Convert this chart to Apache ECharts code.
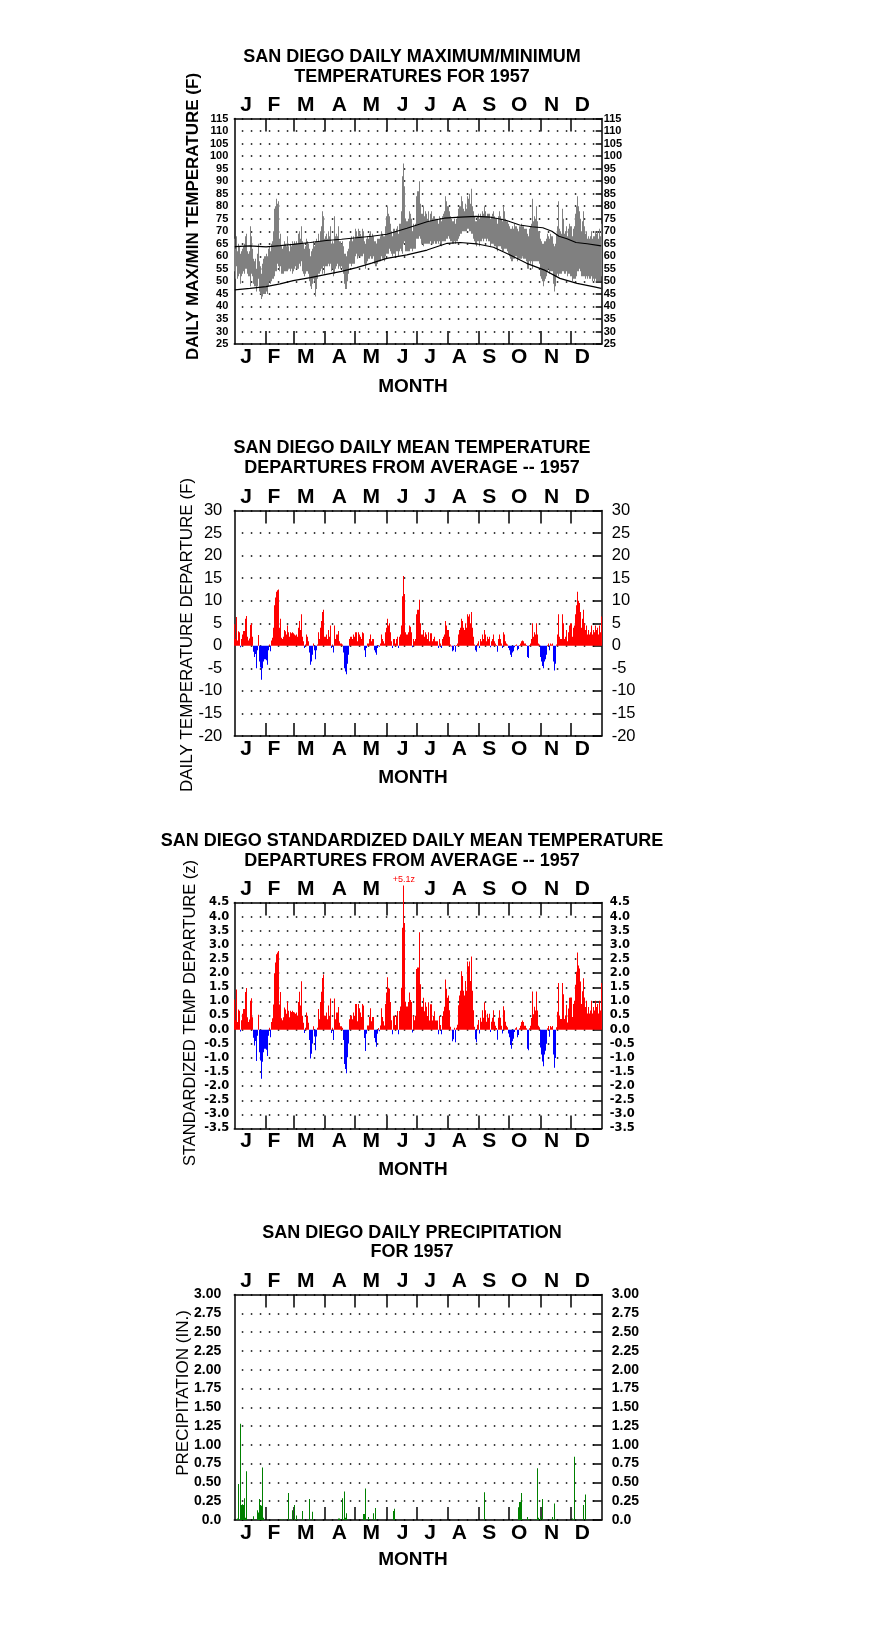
<!DOCTYPE html>
<html><head><meta charset="utf-8">
<script src="https://cdn.jsdelivr.net/npm/echarts@6/dist/echarts.min.js"></script>
<style>html,body{margin:0;padding:0;background:#fff}#c{width:876px;height:1634px}</style>
</head><body><div id="c"></div>
<script>
// ---------------- DATA ----------------
const monthLetters = ['J','F','M','A','M','J','J','A','S','O','N','D'];
const monthStarts = [0,31,59,90,120,151,181,212,243,273,304,334];

// Daily maximum / minimum temperature (F), day index 0 = Jan 1
const tmax = [
67,63,68,62,65,64,61,62,63,64,65,68,69,62,61,62,72,68,63,59,58,59,55,61,65,58,56,53,57,59,60,
61,60,63,64,62,65,66,70,79,80,83,81,82,67,69,64,63,64,66,65,64,68,64,62,65,64,66,65,
66,65,66,65,69,70,67,72,66,65,63,64,67,66,65,63,60,62,63,66,64,66,67,66,69,66,70,72,78,76,67,
68,69,67,70,68,72,65,66,65,76,68,69,68,72,66,66,65,66,64,61,61,60,62,63,66,67,68,66,68,67,
71,70,68,71,70,69,68,71,70,66,65,67,68,67,69,70,68,69,68,66,66,65,67,67,67,68,70,69,68,68,72,
76,80,77,76,73,70,68,71,71,70,71,72,69,73,73,78,92,97,88,75,74,74,75,78,77,75,70,73,72,73,
84,86,90,81,77,77,80,76,78,77,75,78,74,77,78,75,76,76,75,75,75,73,76,75,74,76,77,78,84,82,80,
80,78,76,75,74,74,75,73,75,76,79,80,80,84,82,79,78,81,79,84,83,85,81,87,80,78,76,74,74,76,77,
75,77,76,78,77,80,78,76,77,77,77,75,76,77,78,76,75,75,73,76,78,76,75,74,80,78,75,74,74,73,
72,71,71,72,71,73,72,72,71,70,72,72,73,72,72,71,71,71,69,68,71,72,73,83,74,76,75,80,74,70,70,
67,66,65,65,66,66,67,69,68,67,69,68,68,65,64,65,69,72,82,71,70,69,79,75,69,70,72,68,71,73,
72,68,71,72,77,80,84,80,78,75,70,74,78,72,69,70,67,68,67,68,70,67,68,68,70,69,70,67,71,68,73];
const tmin = [
54,51,56,51,52,53,49,52,53,54,53,55,55,53,52,52,48,53,52,49,48,48,46,48,51,46,45,43,44,45,45,
46,45,48,50,49,50,51,51,52,54,54,57,56,54,56,53,53,53,54,54,54,54,55,55,54,55,53,54,
55,56,55,55,55,57,56,58,54,53,52,53,54,54,53,50,48,47,49,51,50,44,47,51,53,53,54,55,53,56,53,
56,56,56,57,56,57,54,55,52,53,55,56,57,55,56,55,56,55,53,49,47,47,50,53,57,57,56,57,57,57,
60,61,59,60,60,60,60,60,61,57,55,57,58,59,59,60,59,59,60,57,56,56,57,58,58,58,60,59,59,58,60,
61,61,61,63,62,61,60,61,61,60,62,62,60,62,63,62,61,65,66,62,62,62,62,62,63,63,62,63,63,63,
67,67,68,67,65,65,64,65,65,65,65,65,65,66,65,65,65,66,65,65,66,65,66,65,64,66,66,66,66,67,67,
68,67,66,66,65,65,66,65,66,66,67,68,69,69,70,70,70,70,70,71,71,70,70,69,69,67,66,65,64,66,66,
64,66,66,67,66,67,67,66,67,66,66,64,65,65,65,64,64,63,62,64,64,64,63,62,62,63,63,63,62,61,
60,59,58,58,59,59,60,60,58,59,59,59,59,60,59,59,59,58,55,55,58,57,58,55,58,58,58,58,58,58,57,
52,51,50,48,50,51,52,54,55,53,54,54,54,49,46,48,52,53,52,53,53,53,54,54,53,53,54,52,53,53,
52,50,51,51,51,52,54,54,55,54,52,52,52,52,51,52,51,52,51,51,52,50,51,50,51,50,50,50,50,50,52];

// Normal (average) daily max / min curves, read at selected days
const normMaxDays = [0,15,31,45,58,75,91,106,121,136,151,161,171,181,191,200,208,224,240,254,262,270,283,295,306,315,322,330,339,350,364];
const normMaxVals = [63.9,64.2,63.8,64.3,64.8,65.5,66.3,66.8,67.4,68.0,68.8,70.0,71.2,72.5,73.8,74.6,75.2,75.6,75.9,75.6,75.0,74.3,72.5,71.8,71.4,70.0,68.0,67.0,65.5,65.0,64.2];
const normMinDays = [0,15,31,45,58,75,91,106,121,136,151,171,191,211,224,240,257,273,290,307,323,340,356,364];
const normMinVals = [46.6,47.2,47.9,49.0,50.3,51.5,52.8,54.0,55.5,57.3,59.2,60.6,62.5,65.2,65.5,65.0,63.6,60.6,57.2,54.6,51.2,49.2,47.9,47.2];

// Daily mean temperature departure (F)
const dep = [
4.8,1.5,6.4,1.2,3.2,3.0,-0.3,1.5,2.5,3.3,3.3,6.0,6.6,2.0,1.2,1.6,4.6,5.0,2.0,-1.3,-2.5,-1.8,-5.0,-1.0,2.4,-3.5,-4.8,-7.5,-5.0,-3.5,-3.0,
-3.2,-4.2,-1.0,0.3,-1.2,1.2,1.8,4.0,9.0,10.7,12.0,12.3,12.5,4.0,6.0,1.8,1.5,2.0,3.5,3.2,2.5,4.5,3.0,2.0,3.0,2.8,3.0,2.8,
2.5,2.3,2.5,2.0,4.0,5.5,3.5,7.0,2.0,1.0,-0.5,0.3,2.5,2.0,1.0,-1.5,-4.2,-3.5,-2.0,0.5,-1.0,-3.0,-1.0,0.3,3.0,1.5,4.0,5.5,7.5,8.0,2.0,
2.0,2.5,1.5,3.5,2.0,4.5,-0.5,0.3,-1.5,4.5,1.5,2.5,2.5,3.3,1.0,0.5,0.5,0.3,-1.5,-5.0,-5.7,-6.3,-4.0,-2.0,1.5,2.0,2.0,1.5,2.5,2.0,
3.0,3.0,1.0,3.0,2.5,2.0,1.5,3.0,2.8,-1.0,-2.5,-0.5,0.5,0.5,1.5,2.5,1.0,1.5,1.5,-1.0,-1.5,-2.0,-0.5,0.2,-0.2,0.5,2.5,1.5,1.0,0.5,3.0,
4.0,6.0,4.5,5.0,3.0,1.0,-0.5,1.5,1.5,0.5,1.5,2.0,-0.5,2.0,2.5,4.5,11.0,15.5,11.5,3.0,2.5,2.5,3.0,4.5,4.2,3.0,-0.3,1.5,1.0,1.5,
7.0,8.0,10.2,5.0,2.5,2.5,3.5,2.0,3.0,2.5,1.5,3.0,1.0,2.8,2.8,1.0,1.5,2.0,1.0,1.0,1.0,-0.5,1.5,0.5,-0.5,1.5,2.0,2.5,5.5,4.5,3.5,
3.5,2.0,0.3,0.0,-1.2,-1.0,0.2,-1.3,0.2,0.5,2.5,3.5,4.0,6.0,5.5,4.0,3.5,5.0,4.0,7.0,6.5,7.0,5.0,7.5,4.0,2.0,0.3,-1.0,-1.3,0.5,1.0,
-0.5,1.5,1.0,2.5,1.5,3.5,2.5,1.0,2.0,1.5,2.0,-0.3,1.0,1.5,2.5,1.0,0.5,0.2,-1.3,1.5,2.5,1.5,0.5,-0.5,3.0,2.5,1.0,0.5,0.3,-0.5,
-1.0,-2.0,-2.5,-1.5,-1.2,-0.3,0.2,0.3,-1.0,-0.7,0.2,0.5,1.0,1.2,1.0,0.5,0.5,0.2,-2.5,-2.7,0.2,0.5,1.5,5.0,2.0,3.0,2.5,5.0,2.5,0.5,0.3,
-2.5,-3.5,-4.5,-5.0,-3.5,-3.0,-2.0,0.2,0.5,-1.0,0.5,0.3,0.5,-3.5,-5.5,-4.0,0.3,2.5,7.0,2.0,1.5,1.5,7.0,5.0,1.5,2.0,3.5,1.0,3.0,4.5,
5.0,2.0,4.0,4.5,7.0,9.0,12.0,10.0,9.5,7.5,4.0,6.0,8.0,5.0,3.5,4.5,2.5,3.5,2.5,3.0,4.5,2.5,3.5,3.0,4.5,3.5,4.0,2.5,4.5,3.0,6.5];

// Standardized daily mean temperature departure (z)
const zdep = [
1.07,0.33,1.42,0.27,0.71,0.67,-0.07,0.33,0.56,0.73,0.73,1.33,1.47,0.44,0.27,0.36,1.02,1.11,0.44,-0.29,-0.56,-0.40,-1.11,-0.22,0.53,-0.80,-1.09,-1.74,-1.14,-0.80,-0.68,
-0.71,-0.93,-0.22,0.07,-0.27,0.27,0.40,0.89,2.00,2.38,2.67,2.73,2.78,0.89,1.33,0.40,0.33,0.44,0.78,0.71,0.56,1.00,0.67,0.44,0.67,0.62,0.67,0.62,
0.61,0.56,0.61,0.49,0.98,1.34,0.85,1.71,0.49,0.24,-0.12,0.07,0.61,0.49,0.24,-0.37,-1.02,-0.85,-0.49,0.12,-0.24,-0.73,-0.24,0.07,0.73,0.37,0.98,1.34,1.83,1.95,0.49,
0.49,0.61,0.37,0.85,0.49,1.10,-0.12,0.07,-0.37,1.10,0.37,0.61,0.61,0.80,0.24,0.12,0.12,0.07,-0.37,-1.22,-1.39,-1.54,-0.98,-0.49,0.37,0.49,0.49,0.37,0.61,0.49,
0.91,0.91,0.30,0.91,0.76,0.61,0.45,0.91,0.85,-0.30,-0.76,-0.15,0.15,0.15,0.45,0.76,0.30,0.45,0.45,-0.30,-0.45,-0.61,-0.15,0.06,-0.06,0.15,0.76,0.45,0.30,0.15,0.91,
1.31,1.85,1.48,1.45,0.98,0.33,-0.16,0.49,0.49,0.16,0.49,0.66,-0.16,0.66,0.82,1.48,3.61,5.10,3.77,0.98,0.82,0.82,0.98,1.31,1.05,0.98,-0.10,0.49,0.33,0.49,
2.15,2.20,3.45,1.61,0.81,0.81,1.13,0.65,0.97,0.81,0.48,0.97,0.32,0.90,0.90,0.32,0.48,0.65,0.32,0.32,0.32,-0.16,0.48,0.16,-0.16,0.48,0.65,0.81,1.77,1.45,1.13,
1.21,0.69,0.10,0.00,-0.41,-0.34,0.07,-0.45,0.07,0.17,0.86,1.21,1.38,2.07,1.90,1.38,1.21,1.72,1.38,2.41,2.24,2.41,1.72,2.59,1.38,0.69,0.10,-0.34,-0.45,0.17,0.34,
-0.14,0.42,0.28,0.69,0.42,0.97,0.69,0.28,0.56,0.42,0.56,-0.08,0.28,0.42,0.69,0.28,0.14,0.06,-0.36,0.42,0.69,0.42,0.14,-0.14,0.83,0.69,0.28,0.14,0.08,-0.14,
-0.27,-0.54,-0.68,-0.41,-0.32,-0.08,0.05,0.08,-0.27,-0.19,0.05,0.14,0.27,0.32,0.27,0.14,0.14,0.05,-0.68,-0.73,0.05,0.14,0.41,1.35,0.54,0.81,0.68,1.35,0.68,0.14,0.08,
-0.63,-0.88,-1.13,-1.30,-0.88,-0.75,-0.50,0.05,0.13,-0.25,0.13,0.08,0.13,-0.88,-1.35,-1.00,0.08,0.63,1.65,0.50,0.38,0.38,1.65,1.25,0.38,0.50,0.88,0.25,0.75,1.13,
1.14,0.45,0.91,1.02,1.59,2.05,2.73,2.27,2.16,1.70,0.91,1.36,1.82,1.14,0.80,1.02,0.57,0.80,0.57,0.68,1.02,0.57,0.80,0.68,1.02,0.80,0.91,0.57,1.02,0.68,1.65];

// Daily precipitation (in.) — only days with a recorded amount
const precipDays = [3,4,6,7,8,9,10,11,12,19,23,24,25,26,27,28,29,45,48,53,57,59,61,67,74,77,103,104,107,109,110,111,128,129,130,133,138,140,158,159,248,282,283,284,285,286,291,292,299,301,302,304,306,316,318,335,337,346,348];
const precipIn   = [0.02,0.48,1.28,0.20,0.21,0.20,0.29,0.03,0.65,0.05,0.13,0.10,0.28,0.20,0.19,0.70,0.03,0.01,0.01,0.36,0.13,0.20,0.06,0.12,0.28,0.11,0.02,0.02,0.29,0.38,0.03,0.09,0.08,0.08,0.42,0.04,0.09,0.16,0.12,0.15,0.37,0.17,0.24,0.24,0.36,0.01,0.04,0.01,0.01,0.69,0.03,0.05,0.28,0.04,0.22,0.02,0.84,0.20,0.34];

// ---------------- LAYOUT ----------------
const FONT = '"Liberation Sans", Arial, Helvetica, sans-serif';
const WIDE = '"DejaVu Sans", Verdana, sans-serif';
const labelPos = [11.6,39.4,70.9,104.3,136,167.3,194.4,223.5,253.3,283,315.3,345.7];
const panels = [
  {top:118.5, height:225.5, min:25, max:115, interval:5, fmt:v=>String(v),
   lab:{fontSize:11, fontWeight:'bold', family:FONT}, lm:6, rm:2, rtick:6,
   title:['SAN DIEGO DAILY MAXIMUM/MINIMUM','TEMPERATURES FOR 1957'], ty:[57,77],
   yname:'DAILY MAX/MIN TEMPERATURE (F)', ynx:193, yny:216.5, ynBold:true, ynSize:17,
   month:387, hideTop:[]},
  {top:510.5, height:225.5, min:-20, max:30, interval:5, fmt:v=>String(v),
   lab:{fontSize:16.5, fontWeight:'normal', family:FONT}, lm:12, rm:10, rtick:9,
   title:['SAN DIEGO DAILY MEAN TEMPERATURE','DEPARTURES FROM AVERAGE -- 1957'], ty:[448,468],
   yname:'DAILY TEMPERATURE DEPARTURE (F)', ynx:187, yny:635, ynBold:false, ynSize:17,
   month:778, hideTop:[]},
  {top:902.5, height:226, min:-3.5, max:4.5, interval:0.5, fmt:v=>v.toFixed(1),
   lab:{fontSize:11.5, fontWeight:'bold', family:WIDE}, lm:5, rm:8, rtick:9,
   title:['SAN DIEGO STANDARDIZED DAILY MEAN TEMPERATURE','DEPARTURES FROM AVERAGE -- 1957'], ty:[841,861],
   yname:'STANDARDIZED TEMP DEPARTURE (z)', ynx:190, yny:1013, ynBold:false, ynSize:16.5,
   month:1170, hideTop:[5]},
  {top:1294.5, height:225.5, min:0, max:3, interval:0.25, fmt:v=>(v===0?'0.0':v.toFixed(2)),
   lab:{fontSize:14, fontWeight:'bold', family:FONT}, lm:13, rm:10, rtick:9,
   title:['SAN DIEGO DAILY PRECIPITATION','FOR 1957'], ty:[1233,1252],
   yname:'PRECIPITATION (IN.)', ynx:183, yny:1393, ynBold:false, ynSize:17,
   month:1560, hideTop:[]}
];
const GL = 234.3, GW = 367.4, TITLE_X = 412;

function nearestMonth(v){let b=0;for(let i=1;i<labelPos.length;i++){if(Math.abs(labelPos[i]-v)<Math.abs(labelPos[b]-v))b=i;}return b;}

const grid=[], xAxis=[], yAxis=[], series=[], graphic=[];
panels.forEach((p,g)=>{
  grid.push({left:GL, top:p.top, width:GW, height:p.height, containLabel:false});
  ['bottom','top'].forEach(pos=>{
    xAxis.push({type:'value', gridIndex:g, position:pos, min:0, max:365,
      axisLine:{show:true, onZero:false, lineStyle:{color:'#000', width:1.5}},
      axisTick:{show:true, inside:true, length:13, customValues:monthStarts.slice(1), lineStyle:{color:'#000', width:1.5}},
      axisLabel:{show:true, customValues:labelPos, margin:2.5, color:'#000', fontFamily:FONT, fontSize:21, fontWeight:'bold',
        formatter:v=>{const i=nearestMonth(v); return (pos==='top' && p.hideTop.includes(i))?'':monthLetters[i];}},
      splitLine:{show:false}});
  });
  yAxis.push({type:'value', gridIndex:g, position:'left', min:p.min, max:p.max, interval:p.interval,
    axisLine:{show:true, onZero:false, lineStyle:{color:'#000', width:1.5}}, axisTick:{show:false, length:0},
    axisLabel:{show:true, margin:p.lm, color:'#000', fontFamily:p.lab.family, fontSize:p.lab.fontSize, fontWeight:p.lab.fontWeight, formatter:p.fmt},
    splitLine:{show:true, lineStyle:{color:'#000', width:1.5, type:[1.5,7.5], dashOffset:1.5}}});
  yAxis.push({type:'value', gridIndex:g, position:'right', min:p.min, max:p.max, interval:p.interval,
    axisLine:{show:true, onZero:false, lineStyle:{color:'#000', width:1.5}},
    axisTick:{show:true, inside:true, length:p.rtick, lineStyle:{color:'#000', width:1.5}},
    axisLabel:{show:true, margin:p.rm, color:'#000', fontFamily:p.lab.family, fontSize:p.lab.fontSize, fontWeight:p.lab.fontWeight, formatter:p.fmt},
    splitLine:{show:false}});
  p.title.forEach((t,k)=>graphic.push({type:'text', x:TITLE_X, y:p.ty[k], style:{text:t, fill:'#000', font:'bold 18px '+FONT, align:'center', verticalAlign:'middle'}}));
  graphic.push({type:'text', x:413, y:p.month, style:{text:'MONTH', fill:'#000', font:'bold 19px '+FONT, align:'center', verticalAlign:'middle'}});
  graphic.push({type:'text', x:p.ynx, y:p.yny, rotation:Math.PI/2, style:{text:p.yname, fill:'#000', font:(p.ynBold?'bold ':'')+p.ynSize+'px '+FONT, align:'center', verticalAlign:'middle'}});
});

function rectBetween(api, x0v, x1v, y0v, y1v, fill){
  const a = api.coord([x0v, y0v]), b = api.coord([x1v, y1v]);
  let x0 = Math.round(a[0]), x1 = Math.round(b[0]); if (x1 <= x0) x1 = x0 + 1;
  const ya = Math.min(a[1], b[1]), yb = Math.max(a[1], b[1]);
  return {type:'rect', shape:{x:x0, y:ya, width:x1-x0, height:Math.max(yb-ya, 0.6)}, style:{fill:fill}};
}

// Panel 1: daily range band + normals
series.push({type:'custom', xAxisIndex:0, yAxisIndex:0, silent:true,
  data: tmax.map((v,i)=>[i, tmin[i], v]),
  renderItem:(params, api)=>rectBetween(api, api.value(0), api.value(0)+1, api.value(1), api.value(2), '#808080')});
series.push({type:'line', xAxisIndex:0, yAxisIndex:0, silent:true, symbol:'none',
  data: normMaxDays.map((d,i)=>[d+0.5, normMaxVals[i]]), lineStyle:{color:'#000', width:1.2}});
series.push({type:'line', xAxisIndex:0, yAxisIndex:0, silent:true, symbol:'none',
  data: normMinDays.map((d,i)=>[d+0.5, normMinVals[i]]), lineStyle:{color:'#000', width:1.2}});

// Panel 2: departures
series.push({type:'custom', xAxisIndex:2, yAxisIndex:2, silent:true,
  data: dep.map((v,i)=>[i, v]),
  renderItem:(params, api)=>{const v=api.value(1); return rectBetween(api, api.value(0), api.value(0)+1, 0, v, v>=0?'#ff0000':'#0000ff');}});

// Panel 3: standardized departures (bars above axis max run past the frame and get a value label)
const Z_MAX = panels[2].max;
series.push({type:'custom', xAxisIndex:4, yAxisIndex:4, silent:true, clip:false,
  data: zdep.map((v,i)=>[i, v]),
  renderItem:(params, api)=>{
    const d=api.value(0), v=api.value(1);
    const r = rectBetween(api, d, d+1, 0, v, v>=0?'#ff0000':'#0000ff');
    if (v <= Z_MAX) return r;
    const top = api.coord([d+0.5, v]);
    return {type:'group', children:[r, {type:'text', x:top[0], y:top[1]-6,
      style:{text:'+'+v.toFixed(1)+'z', fill:'#ff0000', font:'9px '+FONT, align:'center', verticalAlign:'middle'}}]};
  }});

// Panel 4: precipitation
series.push({type:'custom', xAxisIndex:6, yAxisIndex:6, silent:true,
  data: precipDays.map((d,i)=>[d, precipIn[i]]),
  renderItem:(params, api)=>rectBetween(api, api.value(0), api.value(0)+1, 0, api.value(1), '#008000')});

const chart = echarts.init(document.getElementById('c'), null, {renderer:'canvas'});
chart.setOption({animation:false, backgroundColor:'#fff', grid, xAxis, yAxis, series, graphic});
</script></body></html>
